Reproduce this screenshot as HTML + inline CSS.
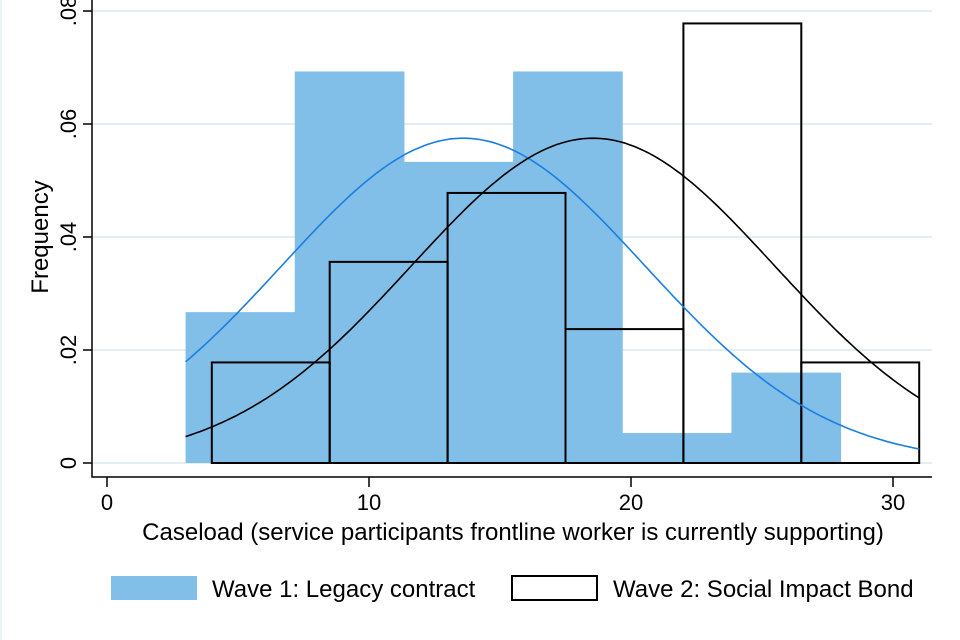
<!DOCTYPE html>
<html><head><meta charset="utf-8"><style>
body{margin:0;background:#fff;font-family:"Liberation Sans",sans-serif;overflow:hidden}
svg{display:block}
</style></head><body>
<svg id="c" width="960" height="640" xmlns="http://www.w3.org/2000/svg" font-family="Liberation Sans, sans-serif">
<rect x="0" y="0" width="2" height="640" fill="#eaf2f5"/>
<g id="grid"></g><g id="bars"></g><g id="curves"></g><g id="axes"></g>
<g>
<rect x="111" y="576" width="86" height="24" fill="#82bfe8"/>
<text x="212" y="597" font-size="24">Wave 1: Legacy contract</text>
<rect x="512" y="576" width="85" height="24" fill="none" stroke="#000" stroke-width="2"/>
<text x="613" y="597" font-size="24">Wave 2: Social Impact Bond</text>
</g>
<text x="513" y="540" font-size="24" text-anchor="middle">Caseload (service participants frontline worker is currently supporting)</text>
<text transform="translate(48,237) rotate(-90)" font-size="24" text-anchor="middle">Frequency</text>
</svg>
<script>
const xTicks=[0,10,20,30];
const yTicks=[0,0.02,0.04,0.06,0.08];
const yTickLabels=["0",".02",".04",".06",".08"];
const w1Start=3, w1Width=25/6;
const w1Heights=[0.0267,0.0693,0.0533,0.0693,0.0053,0.016];
const w2Start=4, w2Width=4.5;
const w2Heights=[0.0178,0.0356,0.0478,0.0237,0.0778,0.0178];
const w1Mean=13.6, w1Sd=6.94;
const w2Mean=18.55, w2Sd=6.94;
const curveRange=[3,31];

const NS="http://www.w3.org/2000/svg";
const X=v=>107+v*26.2, Y=v=>463-v*5650;
function mk(tag,attrs,parent,text){const e=document.createElementNS(NS,tag);for(const k in attrs)e.setAttribute(k,attrs[k]);if(text!==undefined)e.textContent=text;document.getElementById(parent).appendChild(e);return e;}
yTicks.forEach((t,i)=>{
 const g=mk('line',{x1:93,x2:932,y1:Y(t),y2:Y(t),stroke:'#e3eef2','stroke-width':2},'grid');
 
 
 const tk=mk('line',{x1:83,x2:92,y1:Y(t),y2:Y(t),stroke:'#000','stroke-width':1.5},'axes');
 
 
 const lb=mk('text',{transform:`translate(76,${Y(t)}) rotate(-90)`,'font-size':22,'text-anchor':'middle'},'axes',yTickLabels[i]);
 
 
});
xTicks.forEach(t=>{
 const tk=mk('line',{x1:X(t),x2:X(t),y1:477,y2:487,stroke:'#000','stroke-width':1.5},'axes');
 
 
 const lb=mk('text',{x:X(t),y:510,'font-size':22,'text-anchor':'middle'},'axes',String(t));
 
 
});
const ax=mk('path',{d:'M92,0 V477 H932',fill:'none',stroke:'#000','stroke-width':1.5},'axes');


w1Heights.forEach((h,i)=>{
 const x0=X(w1Start+i*w1Width),x1=X(w1Start+(i+1)*w1Width);
 const r=mk('rect',{x:x0,y:Y(h),width:x1-x0+0.5,height:Y(0)-Y(h),fill:'#82bfe8'},'bars');
 
 
});
w2Heights.forEach((h,i)=>{
 const x0=X(w2Start+i*w2Width),x1=X(w2Start+(i+1)*w2Width);
 const r=mk('rect',{x:x0,y:Y(h),width:x1-x0,height:Y(0)-Y(h),fill:'none',stroke:'#000','stroke-width':2},'bars');
 
 
});
function curve(m,s,col,name){
 let d='';for(let i=0;i<=200;i++){const v=curveRange[0]+(curveRange[1]-curveRange[0])*i/200;const p=Math.exp(-0.5*((v-m)/s)**2)/(s*Math.sqrt(2*Math.PI));d+=(i?'L':'M')+X(v).toFixed(1)+','+Y(p).toFixed(1);}
 const p=mk('path',{d,fill:'none',stroke:col,'stroke-width':1.6},'curves');
 
 
}
curve(w1Mean,w1Sd,'#1a7fe0','normal-curve-wave1');
curve(w2Mean,w2Sd,'#000','normal-curve-wave2');
</script>
</body></html>
